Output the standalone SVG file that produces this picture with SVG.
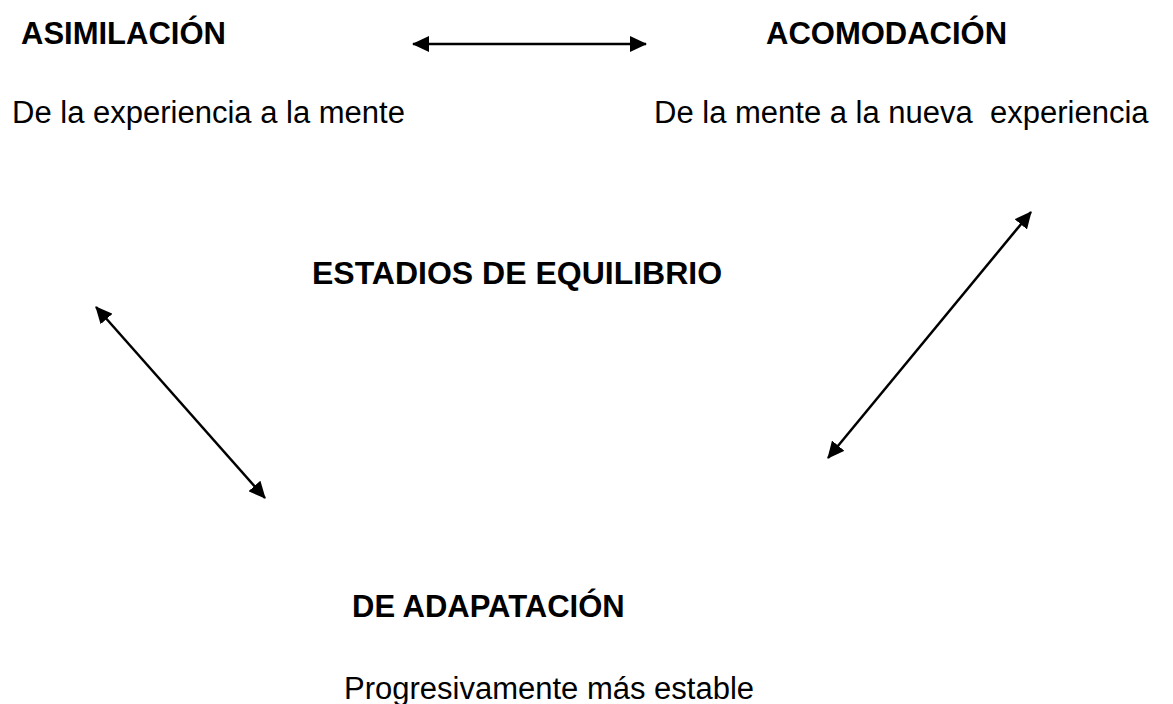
<svg xmlns="http://www.w3.org/2000/svg" width="1173" height="704" viewBox="0 0 1173 704">
<defs>
<style>
.t{font-family:"Liberation Sans",Arial,sans-serif;fill:#000;font-size:31px}
.b{font-weight:bold}
.c{stroke:#000;stroke-width:2.5;fill:none}
</style>
<marker id="ah" viewBox="0 0 17 16" refX="16" refY="8" markerWidth="17" markerHeight="16" markerUnits="userSpaceOnUse" orient="auto-start-reverse">
<path d="M0,0 L17,8 L0,16 z" fill="#000"/>
</marker>
</defs>
<rect width="1173" height="704" fill="#fff"/>
<g id="asimilacion">
<text class="t b" x="21" y="44">ASIMILACIÓN</text>
<text class="t" x="12" y="123">De la experiencia a la mente</text>
</g>
<g id="acomodacion">
<text class="t b" x="766" y="44">ACOMODACIÓN</text>
<text class="t" x="654" y="123" xml:space="preserve">De la mente a la nueva  experiencia</text>
</g>
<g id="equilibrio">
<text class="t b" x="312" y="284" style="font-size:32px">ESTADIOS DE EQUILIBRIO</text>
</g>
<g id="adaptacion">
<text class="t b" x="352" y="617">DE ADAPATACIÓN</text>
<text class="t" x="344" y="699">Progresivamente más estable</text>
</g>
<g id="connectors">
<line class="c" x1="413" y1="44" x2="646" y2="44" marker-start="url(#ah)" marker-end="url(#ah)"/>
<line class="c" x1="96" y1="307" x2="265" y2="498" marker-start="url(#ah)" marker-end="url(#ah)"/>
<line class="c" x1="1031" y1="212" x2="828" y2="458" marker-start="url(#ah)" marker-end="url(#ah)"/>
</g>
</svg>
